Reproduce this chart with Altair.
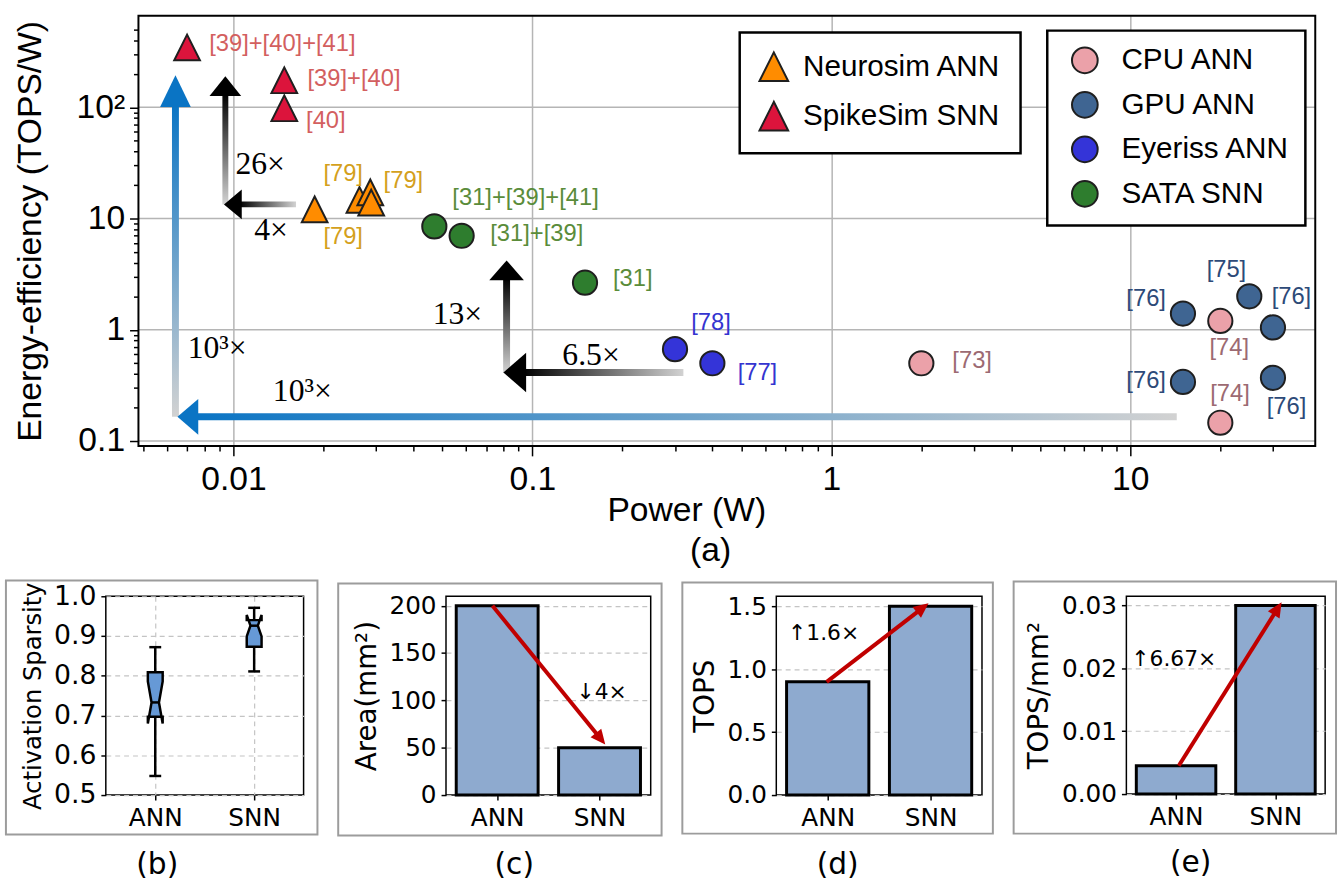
import math
import altair as alt
import pandas as pd

# ================= (a) energy-efficiency vs. power =================
circle_groups = ["CPU ANN", "GPU ANN", "Eyeriss ANN", "SATA SNN"]
circle_colors = ["#EBA1A9", "#3F6592", "#3434D8", "#2E7D2E"]
triangle_groups = ["Neurosim ANN", "SpikeSim SNN"]
triangle_colors = ["#FF8C00", "#DC143C"]

cpu_power = [2.0, 20.0, 20.0]
cpu_eff = [0.50, 1.20, 0.146]
gpu_power = [15.0, 25.0, 30.0, 15.0, 30.0]
gpu_eff = [1.40, 2.00, 1.05, 0.34, 0.37]
eyeriss_power = [0.30, 0.40]
eyeriss_eff = [0.67, 0.50]
sata_power = [0.047, 0.058, 0.15]
sata_eff = [8.5, 7.0, 2.65]
neurosim_power = [0.0187, 0.0264, 0.0287, 0.0289]
neurosim_eff = [12.1, 14.7, 17.2, 13.9]
spikesim_power = [0.0070, 0.0148, 0.0148]
spikesim_eff = [345.0, 175.0, 98.0]

RED_L, ORG_L, GRN_L = "#D35F5F", "#D4A01C", "#5A8C3A"
BLU_L, NAV_L, PNK_L = "#3434D0", "#2D4A78", "#9C6A72"
ref_text = ["[39]+[40]+[41]", "[39]+[40]", "[40]", "[79]", "[79]", "[79]",
            "[31]+[39]+[41]", "[31]+[39]", "[31]", "[78]", "[77]", "[73]",
            "[75]", "[76]", "[76]", "[74]", "[76]", "[74]", "[76]"]
ref_power = [0.0083, 0.0177, 0.0175, 0.0200, 0.0318, 0.0200,
             0.054, 0.0723, 0.186, 0.34, 0.486, 2.54,
             18.0, 9.7, 29.7, 18.4, 9.7, 18.5, 28.6]
ref_eff = [367, 179, 75.7, 25.3, 21.5, 6.76,
           15.3, 7.18, 2.86, 1.14, 0.405, 0.525,
           3.42, 1.88, 1.96, 0.68, 0.345, 0.266, 0.20]
ref_color = [RED_L, RED_L, RED_L, ORG_L, ORG_L, ORG_L,
             GRN_L, GRN_L, GRN_L, BLU_L, BLU_L, PNK_L,
             NAV_L, NAV_L, NAV_L, PNK_L, NAV_L, PNK_L, NAV_L]

arrow_color = ["#0A74C4", "#0A74C4", "#000000", "#000000", "#000000", "#000000"]
arrow_from_power = [0.0064, 14.3, 0.0094, 0.0162, 0.082, 0.32]
arrow_from_eff = [0.165, 0.165, 13.4, 13.4, 0.41, 0.413]
arrow_to_power = [0.0064, 0.0065, 0.0094, 0.0093, 0.082, 0.080]
arrow_to_eff = [194.0, 0.165, 190.0, 13.4, 4.2, 0.413]

gain_text = ["26×", "4×", "13×", "6.5×", "10³×", "10³×"]
gain_power = [0.01016, 0.01174, 0.0464, 0.126, 0.00703, 0.01355]
gain_eff = [30.8, 7.93, 1.39, 0.59, 0.68, 0.282]

x_major_ticks = [0.01, 0.1, 1.0, 10.0]
y_major_ticks = [0.1, 1.0, 10.0, 100.0]

# ================= (b)-(e) =================
models = ["ANN", "SNN"]
sparsity_whislo = [0.548, 0.811]
sparsity_q1 = [0.697, 0.873]
sparsity_med = [0.733, 0.926]
sparsity_q3 = [0.809, 0.940]
sparsity_whishi = [0.872, 0.971]
sparsity_cilo = [0.680, 0.899]
sparsity_cihi = [0.786, 0.953]
area_mm2 = [200.0, 50.0]
tops = [0.90, 1.50]
tops_per_mm2 = [0.0045, 0.0300]

area_arrow = [-0.046, 200.0, 1.056, 53.4]
tops_arrow = [-0.01, 0.90, 0.98, 1.524]
density_arrow = [0.027, 0.0045, 1.062, 0.0305]
area_note = ["↓4×", 0.775, 108.9]
tops_note = ["↑1.6×", -0.385, 1.29]
density_note = ["↑6.67×", -0.45, 0.02145]

# ---------------- styles ----------------
FONT = "Liberation Sans"
SERIF = "Liberation Serif"
DJ = "DejaVu Sans"
GRAY = "#D2D2D2"

XMIN, XMAX, YMIN, YMAX = 0.005, 40.0, 0.1, 600.0
WA, HA = 1190, 435
INSET = 33          # main plot frame starts this far right of the column origin
PPX = WA / math.log10(XMAX / XMIN)
PPY = HA / math.log10(YMAX / YMIN)


def a_px(x, y):
    return math.log10(x / XMIN) * PPX, HA - math.log10(y / YMIN) * PPY


def a_data(px, py):
    return XMIN * 10 ** (px / PPX), YMIN * 10 ** ((HA - py) / PPY)


def decade_ticks(lo, hi):
    out = []
    for e in range(-4, 4):
        for k in range(1, 10):
            v = float(f"{k}e{e}")
            if lo * 0.999 <= v <= hi * 0.99:
                out.append(v)
    return out


x_major = "(datum.value == 0.01 || datum.value == 0.1 || datum.value == 1 || datum.value == 10)"
y_major = "(datum.value == 0.1 || datum.value == 1 || datum.value == 10 || datum.value == 100)"

x_axis = alt.Axis(
    values=decade_ticks(XMIN, XMAX),
    labelExpr="datum.value == 0.01 ? '0.01' : datum.value == 0.1 ? '0.1' : datum.value == 1 ? '1' : datum.value == 10 ? '10' : ''",
    tickSize={"condition": {"test": x_major, "value": 10}, "value": 5},
    gridOpacity={"condition": {"test": x_major, "value": 1}, "value": 0},
    labelFontSize={"condition": {"test": x_major, "value": 34}, "value": 0},
    grid=True, gridColor="#b5b5b5", gridWidth=1.5, domain=False,
    tickColor="black", tickWidth=1.5, labelFont=FONT,
    labelColor="black", labelPadding=7, labelOverlap=False, labelFlush=False,
    title="Power (W)", titleFont=FONT, titleFontSize=34, titleFontWeight="normal",
    titleColor="black", titleX=INSET + 554, titleY=75, titleBaseline="alphabetic",
)
y_axis = alt.Axis(
    values=decade_ticks(YMIN, YMAX), offset=-INSET,
    labelExpr="datum.value == 0.1 ? '0.1' : datum.value == 1 ? '1' : datum.value == 10 ? '10' : datum.value == 100 ? '10²' : ''",
    tickSize={"condition": {"test": y_major, "value": 9}, "value": 5},
    labelFontSize={"condition": {"test": y_major, "value": 34}, "value": 0},
    grid=False, domain=False,
    tickColor="black", tickWidth=1.5, labelFont=FONT,
    labelColor="black", labelPadding=5, labelOverlap=False, labelFlush=False,
    title="Energy-efficiency (TOPS/W)", titleFont=FONT, titleFontSize=34,
    titleFontWeight="normal", titleColor="black", titlePadding=29,
)
xs = alt.Scale(type="log", domain=[XMIN, XMAX], range=[INSET, INSET + WA], nice=False)
ys = alt.Scale(type="log", domain=[YMIN, YMAX], nice=False)


def AX(f):
    return alt.X(f, type="quantitative", scale=xs, axis=x_axis)


def AY(f):
    return alt.Y(f, type="quantitative", scale=ys, axis=y_axis)


ygrid = alt.Chart(pd.DataFrame({"v": y_major_ticks})).mark_rule(color="#b5b5b5", strokeWidth=1.5).encode(
    y=AY("v"), x=alt.value(INSET), x2=alt.value(INSET + WA))

head_len = [32, 21, 20, 18, 20, 23]
head_wid = [31, 36, 32, 30, 35, 40]
shaft_w = [7, 7, 6, 6, 7, 7]

shaft_layers = []
head_rows = []
for i in range(len(arrow_color)):
    tx, ty = a_px(arrow_from_power[i], arrow_from_eff[i])
    hx, hy = a_px(arrow_to_power[i], arrow_to_eff[i])
    d = math.hypot(hx - tx, hy - ty)
    ux, uy = (hx - tx) / d, (hy - ty) / d
    L = head_len[i]
    bx, by = a_data(hx - ux * (L - 2), hy - uy * (L - 2))
    ang = math.degrees(math.atan2(ux, -uy)) % 360
    a = head_wid[i] / L
    head_rows.append(dict(p=arrow_to_power[i], e=arrow_to_eff[i],
                          shape=f"M0,0L{-a:.3f},2L{a:.3f},2Z", size=L * L,
                          angle=round(ang, 3), col=arrow_color[i]))
    if abs(uy) > abs(ux):
        grad = {"gradient": "linear", "x1": 0, "y1": 0, "x2": 0, "y2": 1,
                "stops": [{"offset": 0, "color": arrow_color[i]}, {"offset": 1, "color": GRAY}]}
        df = pd.DataFrame({"p": [arrow_from_power[i]], "e0": [arrow_from_eff[i]], "e1": [by]})
        shaft_layers.append(alt.Chart(df).mark_bar(size=shaft_w[i], fill=grad, strokeWidth=0)
                            .encode(x=AX("p"), y=AY("e0"), y2="e1:Q"))
    else:
        grad = {"gradient": "linear", "x1": 0, "y1": 0, "x2": 1, "y2": 0,
                "stops": [{"offset": 0, "color": arrow_color[i]}, {"offset": 1, "color": GRAY}]}
        df = pd.DataFrame({"p0": [arrow_from_power[i]], "p1": [bx], "e": [arrow_from_eff[i]]})
        shaft_layers.append(alt.Chart(df).mark_bar(size=shaft_w[i], fill=grad, strokeWidth=0)
                            .encode(x=AX("p0"), x2="p1:Q", y=AY("e")))

heads = alt.Chart(pd.DataFrame(head_rows)).mark_point(filled=True, opacity=1, strokeWidth=0).encode(
    x=AX("p"), y=AY("e"),
    shape=alt.Shape("shape:N", scale=None),
    size=alt.Size("size:Q", scale=None),
    angle=alt.Angle("angle:Q", scale=None),
    fill=alt.Fill("col:N", scale=None),
)

circ_df = pd.DataFrame({
    "p": cpu_power + gpu_power + eyeriss_power + sata_power,
    "e": cpu_eff + gpu_eff + eyeriss_eff + sata_eff,
    "g": ["CPU ANN"] * len(cpu_power) + ["GPU ANN"] * len(gpu_power)
         + ["Eyeriss ANN"] * len(eyeriss_power) + ["SATA SNN"] * len(sata_power),
})
circles = alt.Chart(circ_df).mark_point(shape="circle", filled=True, size=600, stroke="#1f1f1f",
                                        strokeWidth=2, opacity=1).encode(
    x=AX("p"), y=AY("e"),
    fill=alt.Fill("g:N", scale=alt.Scale(domain=circle_groups, range=circle_colors),
                  legend=alt.Legend(title=None, orient="none", legendX=952, legendY=15,
                                    padding=15, rowPadding=11, symbolOffset=8, labelOffset=22,
                                    fillColor="white", strokeColor="black",
                                    labelFont=FONT, labelFontSize=30, labelColor="black",
                                    labelLimit=400, symbolType="circle", symbolSize=676,
                                    symbolStrokeColor="#1f1f1f", symbolStrokeWidth=2,
                                    symbolOpacity=1)),
)

TRI = "M0,-1L-1,1L1,1Z"
tri_df = pd.DataFrame({
    "p": neurosim_power + spikesim_power,
    "e": neurosim_eff + spikesim_eff,
    "g": ["Neurosim ANN"] * len(neurosim_power) + ["SpikeSim SNN"] * len(spikesim_power),
})
triangles = alt.Chart(tri_df).mark_point(shape=TRI, filled=True, size=676, stroke="#1f1f1f",
                                         strokeWidth=2, opacity=1).encode(
    x=AX("p"), y=AY("e"),
    fill=alt.Fill("g:N", scale=alt.Scale(domain=triangle_groups, range=triangle_colors),
                  legend=alt.Legend(title=None, orient="none", legendX=641, legendY=17,
                                    padding=19, rowPadding=13, labelOffset=14,
                                    fillColor="white", strokeColor="black",
                                    labelFont=FONT, labelFontSize=30, labelColor="black",
                                    labelLimit=400, symbolType=TRI, symbolSize=841,
                                    symbolStrokeColor="#1f1f1f", symbolStrokeWidth=2,
                                    symbolOpacity=1)),
)

labels = alt.Chart(pd.DataFrame({"p": ref_power, "e": ref_eff, "t": ref_text, "c": ref_color})).mark_text(
    align="left", baseline="middle", font=FONT, fontSize=24).encode(
    x=AX("p"), y=AY("e"), text="t:N", color=alt.Color("c:N", scale=None))

gains = alt.Chart(pd.DataFrame({"p": gain_power, "e": gain_eff, "t": gain_text})).mark_text(
    align="left", baseline="middle", font=SERIF, fontSize=32, color="black").encode(
    x=AX("p"), y=AY("e"), text="t:N")

frame_a = alt.Chart(pd.DataFrame({"k": [0]})).mark_rect(
    fill="white", fillOpacity=0, stroke="black", strokeWidth=2).encode(
    x=alt.value(INSET), x2=alt.value(INSET + WA), y=alt.value(0), y2=alt.value(HA))

main = alt.layer(ygrid, *shaft_layers, heads, circles, triangles, labels, gains, frame_a).resolve_scale(
    fill="independent").properties(
    width=INSET + WA, height=HA,
    view=alt.ViewBackground(stroke="transparent", strokeWidth=0),
    title=alt.TitleParams("(a)", orient="bottom", anchor="middle", font=FONT, fontSize=34,
                          fontWeight="normal", color="black", offset=7),
)

# ================= bottom panels =================
BAR_FILL = "#8EAACF"
BOX_FILL = "#6699D6"
RED = "#C00000"
ONE = pd.DataFrame({"k": [0]})


def panel_axes(yvals, fmt, ytitle, title_size, label_size, xgrid):
    xa = alt.Axis(values=[0, 1], labelExpr="datum.value == 0 ? 'ANN' : 'SNN'", title=None,
                  grid=xgrid, gridDash=[5, 4], gridColor="#c4c4c4", gridWidth=1.2, domain=False,
                  tickSize=5, tickWidth=1.5, tickColor="black", labelFont=DJ, labelFontSize=25,
                  labelColor="black", labelPadding=6, labelFlush=False)
    ya = alt.Axis(values=yvals, format=fmt, title=ytitle, titleFont=DJ, titleFontSize=title_size,
                  titleFontWeight="normal", titleColor="black", titlePadding=8, grid=True,
                  gridDash=[5, 4], gridColor="#c4c4c4", gridWidth=1.2, domain=False, tickSize=5,
                  tickWidth=1.5, tickColor="black", labelFont=DJ, labelFontSize=label_size,
                  labelColor="black", labelPadding=5, labelFlush=False)
    return xa, ya


def frame_layers(box, sub):
    rect = alt.Chart(ONE).mark_rect(fill="white", fillOpacity=0, stroke="#9c9c9c", strokeWidth=2).encode(
        x=alt.value(box[0]), x2=alt.value(box[1]), y=alt.value(box[2]), y2=alt.value(box[3]))
    txt = alt.Chart(ONE).mark_text(text=sub[0], font=DJ, fontSize=30, align="center",
                                   baseline="middle", color="black").encode(
        x=alt.value(sub[1]), y=alt.value(sub[2]))
    return rect, txt


def bar_panel(vals, ymax, yvals, fmt, ytitle, w, h, arrow, note, box, sub):
    xsc = alt.Scale(domain=[-0.5, 1.5], nice=False, zero=False)
    ysc = alt.Scale(domain=[0, ymax], nice=False)
    xa, ya = panel_axes(yvals, fmt, ytitle, 28, 25, False)
    df = pd.DataFrame({"pos": [0.0, 1.0], "v": vals, "m": models})
    df["lo"] = df["pos"] - 0.4
    df["hi"] = df["pos"] + 0.4
    df["zero"] = 0.0
    bars = alt.Chart(df).mark_bar(fill=BAR_FILL, stroke="black", strokeWidth=3).encode(
        x=alt.X("lo:Q", scale=xsc, axis=xa), x2="hi:Q",
        y=alt.Y("v:Q", scale=ysc, axis=ya), y2="zero:Q")
    x0, y0, x1, y1 = arrow
    px = lambda x: (x + 0.5) * w / 2.0
    py = lambda y: h - y * h / ymax
    tx, ty, hx, hy = px(x0), py(y0), px(x1), py(y1)
    d = math.hypot(hx - tx, hy - ty)
    ux, uy = (hx - tx) / d, (hy - ty) / d
    L, Wd = 15, 14
    bxp, byp = hx - ux * (L - 3), hy - uy * (L - 3)
    bx = bxp * 2.0 / w - 0.5
    by = (h - byp) * ymax / h
    ang = math.degrees(math.atan2(ux, -uy)) % 360
    a = Wd / L
    shaft = alt.Chart(pd.DataFrame({"x0": [x0], "y0": [y0], "x1": [bx], "y1": [by]})).mark_rule(
        color=RED, strokeWidth=4).encode(
        x=alt.X("x0:Q", scale=xsc, axis=xa), y=alt.Y("y0:Q", scale=ysc, axis=ya), x2="x1:Q", y2="y1:Q")
    head = alt.Chart(pd.DataFrame({"x": [x1], "y": [y1]})).mark_point(
        shape=f"M0,0L{-a:.3f},2L{a:.3f},2Z", size=L * L, angle=round(ang, 3), filled=True,
        fill=RED, opacity=1, strokeWidth=0).encode(
        x=alt.X("x:Q", scale=xsc, axis=xa), y=alt.Y("y:Q", scale=ysc, axis=ya))
    txt = alt.Chart(pd.DataFrame({"t": [note[0]], "x": [note[1]], "y": [note[2]]})).mark_text(
        align="left", baseline="middle", font=DJ, fontSize=22, color="black").encode(
        x=alt.X("x:Q", scale=xsc, axis=xa), y=alt.Y("y:Q", scale=ysc, axis=ya), text="t:N")
    rect, lab = frame_layers(box, sub)
    return alt.layer(rect, bars, shaft, head, txt, lab).properties(
        width=w, height=h, view=alt.ViewBackground(stroke="black", strokeWidth=1.5))


# ---- (b) notched box plot ----
BOX_HALF, NOTCH_HALF, CAP_HALF = 0.075, 0.0375, 0.06
poly_rows = []
for i, m in enumerate(models):
    L_, R_ = i - BOX_HALF, i + BOX_HALF
    NL, NR = i - NOTCH_HALF, i + NOTCH_HALF
    q1, med, q3 = sparsity_q1[i], sparsity_med[i], sparsity_q3[i]
    lo, hi = sparsity_cilo[i], sparsity_cihi[i]
    pts = [(L_, q1), (R_, q1), (R_, lo), (NR, med), (R_, hi), (R_, q3),
           (L_, q3), (L_, hi), (NL, med), (L_, lo), (L_, q1)]
    for k, (xx, yy) in enumerate(pts):
        poly_rows.append({"m": m, "o": k, "x": xx, "y": yy})
poly_df = pd.DataFrame(poly_rows)
stat_df = pd.DataFrame({"m": models, "pos": [0.0, 1.0], "wlo": sparsity_whislo, "q1": sparsity_q1,
                        "med": sparsity_med, "q3": sparsity_q3, "whi": sparsity_whishi})
stat_df["cl"] = stat_df["pos"] - CAP_HALF
stat_df["cr"] = stat_df["pos"] + CAP_HALF
stat_df["nl"] = stat_df["pos"] - NOTCH_HALF
stat_df["nr"] = stat_df["pos"] + NOTCH_HALF

bxs = alt.Scale(domain=[-0.5, 1.5], nice=False, zero=False)
bys = alt.Scale(domain=[0.5, 1.0], nice=False, zero=False)
bxa, bya = panel_axes([0.5, 0.6, 0.7, 0.8, 0.9, 1.0], ".1f", "Activation Sparsity", 24.5, 27, True)
BX = lambda f: alt.X(f, type="quantitative", scale=bxs, axis=bxa)
BY = lambda f: alt.Y(f, type="quantitative", scale=bys, axis=bya)

box_poly = alt.Chart(poly_df).mark_line(fill=BOX_FILL, stroke="black", strokeWidth=2.5,
                                        interpolate="linear-closed").encode(
    x=BX("x"), y=BY("y"), detail="m:N", order="o:Q")
whisk_lo = alt.Chart(stat_df).mark_rule(color="black", strokeWidth=2.5).encode(x=BX("pos"), y=BY("wlo"), y2="q1:Q")
whisk_hi = alt.Chart(stat_df).mark_rule(color="black", strokeWidth=2.5).encode(x=BX("pos"), y=BY("q3"), y2="whi:Q")
cap_lo = alt.Chart(stat_df).mark_rule(color="black", strokeWidth=2.5).encode(x=BX("cl"), x2="cr:Q", y=BY("wlo"))
cap_hi = alt.Chart(stat_df).mark_rule(color="black", strokeWidth=2.5).encode(x=BX("cl"), x2="cr:Q", y=BY("whi"))
med_line = alt.Chart(stat_df).mark_rule(color="black", strokeWidth=2.5).encode(x=BX("nl"), x2="nr:Q", y=BY("med"))
rect_b, lab_b = frame_layers((-101, 214, -16, 241), ("(b)", 52, 272))
panel_b = alt.layer(rect_b, whisk_lo, whisk_hi, cap_lo, cap_hi, box_poly, med_line, lab_b).properties(
    width=200, height=201, view=alt.ViewBackground(stroke="black", strokeWidth=1.5))

panel_c = bar_panel(area_mm2, 210.0, [0, 50, 100, 150, 200], "d", "Area(mm²)", 207, 201,
                    area_arrow, area_note, (-109, 218, -13, 242), ("(c)", 69, 272))
panel_d = bar_panel(tops, 1.58, [0.0, 0.5, 1.0, 1.5], ".1f", "TOPS", 208, 201,
                    tops_arrow, tops_note, (-95, 219, -14, 240), ("(d)", 62, 272))
panel_e = bar_panel(tops_per_mm2, 0.03145, [0.0, 0.01, 0.02, 0.03], ".2f", "TOPS/mm²", 201, 200,
                    density_arrow, density_note, (-114, 212, -15, 240), ("(e)", 65, 270))

bottom = alt.hconcat(panel_b, panel_c, panel_d, panel_e, spacing=17)
top = alt.hconcat(main, spacing=0)

chart = alt.vconcat(top, bottom, spacing=11).properties(
    padding={"left": 4, "top": 10, "right": 0, "bottom": 0},
    background="white",
).configure_legend(strokeWidth=2.5)

chart.save("out.html", embed_options={"renderer": "svg", "actions": False})
